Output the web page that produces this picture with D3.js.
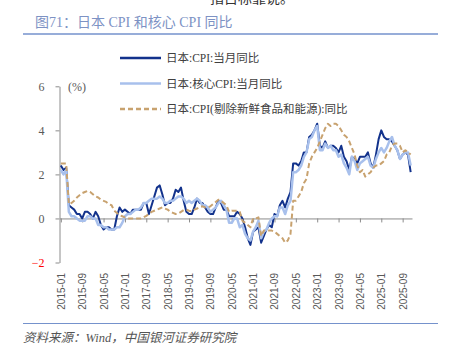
<!DOCTYPE html>
<html><head><meta charset="utf-8">
<script src="https://cdn.jsdelivr.net/npm/d3@7"></script>
<style>body{margin:0;background:#fff}svg{display:block}</style>
</head><body>
<svg id="c" width="450" height="351"></svg>
<script>
// ---- data (monthly, 2015-01 .. 2025-12) ----
const startYear = 2015, nMonths = 132;
const months = d3.range(nMonths).map(i => `${startYear + Math.floor(i/12)}-${String(i%12+1).padStart(2,"0")}`);
const tickLabels = ["2015-01","2015-09","2016-05","2017-01","2017-09","2018-05","2019-01","2019-09","2020-05","2021-01","2021-09","2022-05","2023-01","2023-09","2024-05","2025-01","2025-09"];
const yTicks = [-2,0,2,4,6];
const seriesNames = ["日本:CPI:当月同比","日本:核心CPI:当月同比","日本:CPI(剔除新鲜食品和能源):同比"];
const cpi = [
 2.4,2.2,2.3,0.6,0.5,0.4,0.2,0.2,0.0,0.3,0.3,0.2,
 0.0,0.3,0.1,-0.3,-0.5,-0.4,-0.4,-0.5,-0.5,0.1,0.5,0.3,
 0.4,0.3,0.2,0.4,0.4,0.4,0.4,0.7,0.7,0.2,0.6,1.0,
 1.4,1.5,1.1,0.6,0.7,0.7,0.9,1.3,1.2,1.4,0.8,0.3,
 0.2,0.2,0.5,0.9,0.7,0.7,0.5,0.3,0.2,0.2,0.5,0.8,
 0.7,0.4,0.4,0.1,0.1,0.1,0.3,0.2,0.0,-0.4,-0.9,-1.2,
 -0.6,-0.5,-0.4,-1.1,-0.8,-0.5,-0.3,-0.4,0.2,0.1,0.6,0.8,
 0.5,0.9,1.2,2.5,2.5,2.4,2.6,3.0,3.0,3.7,3.8,4.0,
 4.3,3.3,3.2,3.5,3.2,3.3,3.3,3.2,3.0,3.3,2.8,2.6,
 2.2,2.8,2.7,2.5,2.8,2.8,2.8,3.0,2.5,2.3,2.9,3.6,
 4.0,3.7,3.6,3.6,3.5,3.3,3.1,2.7,2.9,3.0,2.9,2.1];
const coreCpi = [
 2.2,2.0,2.2,0.3,0.1,0.1,0.0,-0.1,-0.1,-0.1,0.1,0.1,
 0.0,0.0,-0.3,-0.3,-0.4,-0.4,-0.5,-0.5,-0.5,-0.4,-0.4,-0.2,
 0.1,0.2,0.2,0.3,0.4,0.4,0.5,0.7,0.7,0.8,0.9,0.9,
 0.9,1.0,0.9,0.7,0.7,0.8,0.8,0.9,1.0,1.0,0.9,0.7,
 0.8,0.7,0.8,0.9,0.8,0.6,0.6,0.5,0.3,0.4,0.5,0.7,
 0.8,0.6,0.4,-0.2,-0.2,0.0,0.0,-0.4,-0.3,-0.7,-0.9,-1.0,
 -0.6,-0.4,-0.1,-0.9,-0.6,-0.5,-0.2,0.0,0.1,0.1,0.5,0.5,
 0.2,0.6,0.8,2.1,2.1,2.2,2.4,2.8,3.0,3.6,3.7,4.0,
 4.2,3.1,3.1,3.4,3.2,3.3,3.1,3.1,2.8,2.9,2.5,2.3,
 2.0,2.8,2.6,2.2,2.5,2.6,2.7,2.8,2.4,2.3,2.7,3.0,
 3.2,3.0,3.2,3.5,3.7,3.3,3.1,2.7,2.9,3.0,3.0,2.4];
const coreCoreCpi = [
 2.5,2.5,2.5,0.65,0.7,0.8,0.95,1.05,1.15,1.2,1.25,1.2,
 1.1,1.0,0.95,0.85,0.8,0.75,0.65,0.6,0.35,0.25,0.15,0.1,
 0.05,0.0,0.0,0.0,0.0,0.0,0.0,0.05,0.12,0.2,0.3,0.35,
 0.4,0.45,0.5,0.45,0.4,0.3,0.25,0.2,0.22,0.3,0.38,0.4,
 0.35,0.32,0.4,0.45,0.52,0.55,0.5,0.5,0.55,0.65,0.75,0.85,
 0.8,0.7,0.6,0.3,0.35,0.35,0.35,0.3,-0.1,-0.2,-0.3,-0.4,
 0.0,0.0,0.05,-0.8,-0.55,-0.55,-0.55,-0.55,-0.6,-0.7,-0.8,-0.9,
 -1.1,-1.0,-0.7,0.8,0.8,1.0,1.2,1.6,1.8,2.5,2.8,3.0,
 3.2,3.5,3.8,4.1,4.3,4.2,4.3,4.3,4.2,4.0,3.8,3.7,
 3.5,3.2,2.9,2.4,2.1,2.2,1.9,2.0,2.1,2.3,2.4,2.4,
 2.5,2.6,2.9,3.0,3.3,3.4,3.4,3.3,3.0,3.1,3.0,2.9];

// ---- drawing ----
const svg = d3.select("#c");
const x = d3.scaleLinear().domain([-0.5, nMonths - 0.5]).range([59.5, 412]);
const y = d3.scaleLinear().domain([-2, 6]).range([262.5, 86.3]);
const grey = "#8c8c8c", txt = "#595959";

// cut-off text from previous page section
svg.append("text").attr("x", 210).attr("y", 3).attr("font-size", 14)
  .attr("font-family", "Noto Sans CJK SC").attr("fill", "#333").text("指目标靠说。");

// title
svg.append("text").attr("x", 35).attr("y", 26.5).attr("font-size", 14)
  .attr("font-family", "'Liberation Serif','Noto Sans CJK SC'").attr("fill", "#7d92c4")
  .text("图71：日本 CPI 和核心 CPI 同比");
svg.append("line").attr("x1", 23).attr("x2", 438).attr("y1", 34).attr("y2", 34)
  .attr("stroke", "#7592cc").attr("stroke-width", 1.5);

// y axis
const yAxis = svg.append("g").attr("transform", `translate(59.5,0)`)
  .call(d3.axisLeft(y).tickValues(yTicks).tickSize(4).tickSizeOuter(0).tickPadding(11).tickFormat(d3.format("d")));
yAxis.select(".domain").attr("stroke", grey);
yAxis.selectAll(".tick line").attr("stroke", grey);
yAxis.selectAll("text").attr("font-size", 12).attr("font-family", "'Liberation Serif'")
  .attr("fill", d => d < 0 ? "#ff0000" : txt);
svg.append("text").attr("x", 68).attr("y", y(6) + 4.5).attr("font-size", 12)
  .attr("font-family", "'Liberation Serif'").attr("fill", txt).text("(%)");

// x axis (zero line with ticks)
const tickIdx = tickLabels.map(l => months.indexOf(l));
const xAxis = svg.append("g").attr("transform", `translate(0,${y(0)})`)
  .call(d3.axisBottom(x).tickValues(tickIdx).tickSize(4).tickSizeOuter(0).tickFormat(""));
xAxis.select(".domain").attr("stroke", grey);
xAxis.selectAll(".tick line").attr("stroke", grey);
// x labels (rotated)
const xLab = svg.append("g").attr("transform", `translate(0,273)`)
  .call(d3.axisBottom(x).tickValues(tickIdx).tickSize(0).tickPadding(0).tickFormat(i => months[i]));
xLab.select(".domain").remove();
xLab.selectAll("text").attr("transform", "rotate(-90)").attr("text-anchor", "end")
  .attr("x", 0).attr("y", 0).attr("dy", "0.35em")
  .attr("font-size", 10).attr("font-family", "'Liberation Sans'").attr("fill", txt);

// lines
const line = d3.line().x((d, i) => x(i)).y(d => y(d));
const styles = [
  {data: cpi, color: "#12328c", w: 2, dash: null},
  {data: coreCpi, color: "#a8c0ec", w: 2.5, dash: null},
  {data: coreCoreCpi, color: "#c8a26f", w: 2, dash: "5,3"}
];
styles.forEach(s => {
  svg.append("path").datum(s.data).attr("d", line).attr("fill", "none")
    .attr("stroke", s.color).attr("stroke-width", s.w).attr("stroke-linejoin", "round")
    .attr("stroke-dasharray", s.dash);
});

// legend
const legY = [58, 83.5, 109];
styles.forEach((s, i) => {
  svg.append("line").attr("x1", 120).attr("x2", 161).attr("y1", legY[i]).attr("y2", legY[i])
    .attr("stroke", s.color).attr("stroke-width", 2.5).attr("stroke-dasharray", s.dash);
  svg.append("text").attr("x", 166).attr("y", legY[i] + 4).attr("font-size", 11.5)
    .attr("font-family", "'Liberation Serif','Noto Sans CJK SC'").attr("fill", "#404040").text(seriesNames[i]);
});

// bottom rule + source
svg.append("line").attr("x1", 23).attr("x2", 438).attr("y1", 323.5).attr("y2", 323.5)
  .attr("stroke", "#7592cc").attr("stroke-width", 1.2);
svg.append("text").attr("x", 23).attr("y", 341.5).attr("font-size", 12.5).attr("font-style", "italic")
  .attr("font-family", "'Liberation Serif','Noto Sans CJK SC'").attr("fill", "#555")
  .text("资料来源：Wind，中国银河证券研究院");
</script>
</body></html>
